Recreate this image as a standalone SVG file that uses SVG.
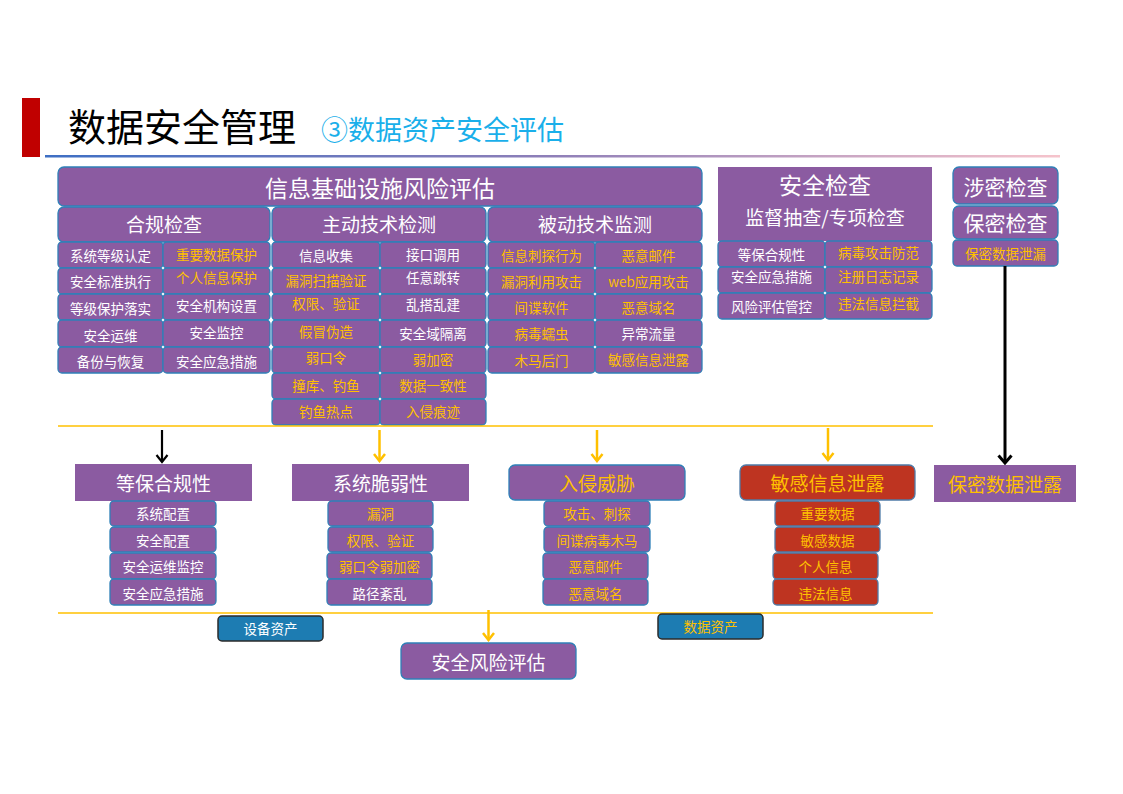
<svg xmlns="http://www.w3.org/2000/svg" width="1123" height="794" viewBox="0 0 1123 794">
<defs>
<linearGradient id="tl" x1="0" y1="0" x2="1" y2="0">
<stop offset="0" stop-color="#3E6FC4"/>
<stop offset="0.5" stop-color="#8F7FB8"/>
<stop offset="1" stop-color="#F6C4CC"/>
</linearGradient>
<marker id="hy" viewBox="0 0 10 14" refX="8.5" refY="7" markerWidth="10" markerHeight="14" markerUnits="userSpaceOnUse" orient="auto">
<polyline points="1.5,1.5 8.5,7 1.5,12.5" fill="none" stroke="#FFC000" stroke-width="2.5"/>
</marker>
<marker id="hk" viewBox="0 0 10 14" refX="8.5" refY="7" markerWidth="10" markerHeight="14" markerUnits="userSpaceOnUse" orient="auto">
<polyline points="1.5,1.5 8.5,7 1.5,12.5" fill="none" stroke="#000000" stroke-width="2.2"/>
</marker>
<marker id="hk3" viewBox="0 0 11 16" refX="9" refY="8" markerWidth="11" markerHeight="16" markerUnits="userSpaceOnUse" orient="auto">
<polyline points="1.5,1.5 9,8 1.5,14.5" fill="none" stroke="#000000" stroke-width="3"/>
</marker>
</defs>
<style>
text{font-family:"Noto Sans CJK SC","Noto Sans",sans-serif;text-anchor:middle;dominant-baseline:central}
.p{fill:#8B5BA1;stroke:#2F80B8;stroke-width:1.3}
.ps{fill:#8B5BA1}
.r{fill:#BE3421;stroke:#4F7BA8;stroke-width:1.3}
.b{fill:#1D7CB2;stroke:#2B2B2B;stroke-width:1.5}
.w{fill:#FFFFFF}
.y{fill:#FFC000}
.t14{font-size:13.5px}
.t19{font-size:19px}
.t23{font-size:23px}
.ya{stroke:#FFC000;stroke-width:2.5;fill:none;marker-end:url(#hy)}
.ka{stroke:#000000;stroke-width:2.2;fill:none;marker-end:url(#hk)}
.kb{stroke:#000000;stroke-width:3;fill:none;marker-end:url(#hk3)}
.sep{stroke:#FFC000;stroke-width:1.3}
</style>
<rect width="1123" height="794" fill="#FFFFFF"/>

<g id="header">
<rect x="22" y="98" width="18" height="59" fill="#C00000"/>
<text x="68" y="124" style="text-anchor:start;font-size:38px" fill="#000000">数据安全管理</text>
<text x="321" y="128" style="text-anchor:start;font-size:27px" fill="#1AAFEA">③数据资产安全评估</text>
<rect x="45" y="155" width="1015" height="2.5" fill="url(#tl)"/>
</g>

<g id="infra">
<rect class="p" x="58" y="167" width="644" height="39" rx="6"/>
<text class="w t23" x="380" y="187">信息基础设施风险评估</text>
</g>

<g id="compliance">
<rect class="p" x="58" y="207" width="212" height="35" rx="6"/>
<text class="w t19" x="164" y="223">合规检查</text>
<rect class="p" x="58" y="242" width="105" height="26" rx="4"/><text class="w t14" x="110.5" y="255">系统等级认定</text>
<rect class="p" x="163" y="242" width="107" height="26" rx="4"/><text class="y t14" x="216.5" y="254">重要数据保护</text>
<rect class="p" x="58" y="268" width="105" height="26" rx="4"/><text class="w t14" x="110.5" y="281">安全标准执行</text>
<rect class="p" x="163" y="268" width="107" height="26" rx="4"/><text class="y t14" x="216.5" y="277">个人信息保护</text>
<rect class="p" x="58" y="294" width="105" height="26" rx="4"/><text class="w t14" x="110.5" y="308">等级保护落实</text>
<rect class="p" x="163" y="294" width="107" height="26" rx="4"/><text class="w t14" x="216.5" y="305">安全机构设置</text>
<rect class="p" x="58" y="320" width="105" height="27" rx="4"/><text class="w t14" x="110.5" y="335">安全运维</text>
<rect class="p" x="163" y="320" width="107" height="27" rx="4"/><text class="w t14" x="216.5" y="332">安全监控</text>
<rect class="p" x="58" y="347" width="105" height="26" rx="4"/><text class="w t14" x="110.5" y="361">备份与恢复</text>
<rect class="p" x="163" y="347" width="107" height="26" rx="4"/><text class="w t14" x="216.5" y="361">安全应急措施</text>
</g>

<g id="active">
<rect class="p" x="272" y="207" width="214" height="35" rx="6"/>
<text class="w t19" x="379" y="223">主动技术检测</text>
<rect class="p" x="272" y="242" width="108" height="26" rx="4"/><text class="w t14" x="326" y="255">信息收集</text>
<rect class="p" x="380" y="242" width="106" height="26" rx="4"/><text class="w t14" x="433" y="254">接口调用</text>
<rect class="p" x="272" y="268" width="108" height="26" rx="4"/><text class="y t14" x="326" y="280">漏洞扫描验证</text>
<rect class="p" x="380" y="268" width="106" height="26" rx="4"/><text class="w t14" x="433" y="277">任意跳转</text>
<rect class="p" x="272" y="294" width="108" height="26" rx="4"/><text class="y t14" x="326" y="303">权限、验证</text>
<rect class="p" x="380" y="294" width="106" height="26" rx="4"/><text class="w t14" x="433" y="304">乱搭乱建</text>
<rect class="p" x="272" y="320" width="108" height="27" rx="4"/><text class="y t14" x="326" y="331">假冒伪造</text>
<rect class="p" x="380" y="320" width="106" height="27" rx="4"/><text class="w t14" x="433" y="333">安全域隔离</text>
<rect class="p" x="272" y="347" width="108" height="26" rx="4"/><text class="y t14" x="326" y="357">弱口令</text>
<rect class="p" x="380" y="347" width="106" height="26" rx="4"/><text class="y t14" x="433" y="359">弱加密</text>
<rect class="p" x="272" y="373" width="108" height="26" rx="4"/><text class="y t14" x="326" y="385">撞库、钓鱼</text>
<rect class="p" x="380" y="373" width="106" height="26" rx="4"/><text class="y t14" x="433" y="385">数据一致性</text>
<rect class="p" x="272" y="399" width="108" height="26" rx="4"/><text class="y t14" x="326" y="411">钓鱼热点</text>
<rect class="p" x="380" y="399" width="106" height="26" rx="4"/><text class="y t14" x="433" y="411">入侵痕迹</text>
</g>

<g id="passive">
<rect class="p" x="488" y="207" width="214" height="35" rx="6"/>
<text class="w t19" x="595" y="223">被动技术监测</text>
<rect class="p" x="488" y="242" width="107" height="26" rx="4"/><text class="y t14" x="541.5" y="255">信息刺探行为</text>
<rect class="p" x="595" y="242" width="107" height="26" rx="4"/><text class="y t14" x="648.5" y="255">恶意邮件</text>
<rect class="p" x="488" y="268" width="107" height="26" rx="4"/><text class="y t14" x="541.5" y="281">漏洞利用攻击</text>
<rect class="p" x="595" y="268" width="107" height="26" rx="4"/><text class="y t14" x="648.5" y="281">web应用攻击</text>
<rect class="p" x="488" y="294" width="107" height="26" rx="4"/><text class="y t14" x="541.5" y="307">间谍软件</text>
<rect class="p" x="595" y="294" width="107" height="26" rx="4"/><text class="y t14" x="648.5" y="307">恶意域名</text>
<rect class="p" x="488" y="320" width="107" height="27" rx="4"/><text class="y t14" x="541.5" y="333">病毒蠕虫</text>
<rect class="p" x="595" y="320" width="107" height="27" rx="4"/><text class="w t14" x="648.5" y="333">异常流量</text>
<rect class="p" x="488" y="347" width="107" height="26" rx="4"/><text class="y t14" x="541.5" y="360">木马后门</text>
<rect class="p" x="595" y="347" width="107" height="26" rx="4"/><text class="y t14" x="648.5" y="359">敏感信息泄露</text>
</g>

<g id="security-check">
<rect class="ps" x="718" y="167" width="214" height="74"/>
<text class="w" x="825" y="184" style="font-size:23px">安全检查</text>
<text class="w" x="825" y="216" style="font-size:19px">监督抽查/专项检查</text>
<rect class="p" x="718" y="241" width="107" height="26" rx="4"/><text class="w t14" x="771.5" y="254">等保合规性</text>
<rect class="p" x="825" y="241" width="107" height="26" rx="4"/><text class="y t14" x="878.5" y="252">病毒攻击防范</text>
<rect class="p" x="718" y="267" width="107" height="26" rx="4"/><text class="w t14" x="771.5" y="276">安全应急措施</text>
<rect class="p" x="825" y="267" width="107" height="26" rx="4"/><text class="y t14" x="878.5" y="276">注册日志记录</text>
<rect class="p" x="718" y="293" width="107" height="26" rx="4"/><text class="w t14" x="771.5" y="306">风险评估管控</text>
<rect class="p" x="825" y="293" width="107" height="26" rx="4"/><text class="y t14" x="878.5" y="303">违法信息拦截</text>
</g>

<g id="secret-check">
<rect class="p" x="953" y="167" width="105" height="37" rx="6"/>
<text class="w" x="1005.5" y="186" style="font-size:21px">涉密检查</text>
<rect class="p" x="953" y="206" width="105" height="33" rx="6"/>
<text class="w" x="1005.5" y="222" style="font-size:21px">保密检查</text>
<rect class="p" x="953" y="240" width="105" height="26" rx="4"/>
<text class="y t14" x="1005.5" y="253">保密数据泄漏</text>
</g>

<g id="separators">
<line class="sep" x1="58" y1="426" x2="933" y2="426"/>
<line class="sep" x1="58" y1="613" x2="933" y2="613"/>
</g>

<g id="connectors">
<line class="ka" x1="162" y1="430" x2="162" y2="462"/>
<line class="ya" x1="379.5" y1="430" x2="379.5" y2="461"/>
<line class="ya" x1="597" y1="430" x2="597" y2="461"/>
<line class="ya" x1="828" y1="428" x2="828" y2="460"/>
<line class="kb" x1="1005" y1="266" x2="1005" y2="463"/>
<line class="ya" x1="488.5" y1="610" x2="488.5" y2="640"/>
</g>

<g id="compliance-result">
<rect class="ps" x="75" y="464" width="177" height="37"/>
<text class="w t19" x="163.5" y="482">等保合规性</text>
<rect class="p" x="110" y="501" width="106" height="25" rx="4"/><text class="w t14" x="163" y="513">系统配置</text>
<rect class="p" x="110" y="527" width="106" height="25" rx="4"/><text class="w t14" x="163" y="540">安全配置</text>
<rect class="p" x="110" y="553" width="106" height="26" rx="4"/><text class="w t14" x="163" y="566">安全运维监控</text>
<rect class="p" x="110" y="579" width="106" height="26" rx="4"/><text class="w t14" x="163" y="593">安全应急措施</text>
</g>

<g id="vulnerability">
<rect class="ps" x="292" y="464" width="177" height="37"/>
<text class="w t19" x="380.5" y="482">系统脆弱性</text>
<rect class="p" x="328" y="501" width="105" height="25" rx="4"/><text class="y t14" x="380.5" y="513">漏洞</text>
<rect class="p" x="328" y="527" width="105" height="25" rx="4"/><text class="y t14" x="380.5" y="540">权限、验证</text>
<rect class="p" x="327" y="553" width="105" height="26" rx="4"/><text class="y t14" x="379.5" y="566">弱口令弱加密</text>
<rect class="p" x="327" y="579" width="105" height="26" rx="4"/><text class="w t14" x="379.5" y="593">路径紊乱</text>
</g>

<g id="intrusion">
<rect class="p" x="509" y="465" width="176" height="35" rx="6"/>
<text class="y t19" x="597" y="482">入侵威胁</text>
<rect class="p" x="544" y="501" width="106" height="25" rx="4"/><text class="y t14" x="597" y="513">攻击、刺探</text>
<rect class="p" x="544" y="527" width="106" height="25" rx="4"/><text class="y t14" x="597" y="540">间谍病毒木马</text>
<rect class="p" x="543" y="553" width="105" height="26" rx="4"/><text class="y t14" x="595.5" y="566">恶意邮件</text>
<rect class="p" x="543" y="579" width="105" height="26" rx="4"/><text class="y t14" x="595.5" y="593">恶意域名</text>
</g>

<g id="leak">
<rect class="r" x="740" y="465" width="175" height="35" rx="6"/>
<text class="y t19" x="827.5" y="482">敏感信息泄露</text>
<rect class="r" x="775" y="501" width="105" height="25" rx="4"/><text class="y t14" x="827.5" y="513">重要数据</text>
<rect class="r" x="775" y="527" width="105" height="25" rx="4"/><text class="y t14" x="827.5" y="540">敏感数据</text>
<rect class="r" x="773" y="553" width="105" height="26" rx="4"/><text class="y t14" x="825.5" y="566">个人信息</text>
<rect class="r" x="773" y="579" width="105" height="26" rx="4"/><text class="y t14" x="825.5" y="593">违法信息</text>
</g>

<g id="secret-leak">
<rect class="ps" x="934" y="465" width="142" height="37"/>
<text class="y t19" x="1005" y="483">保密数据泄露</text>
</g>

<g id="device-assets">
<rect class="b" x="218" y="616" width="105" height="25" rx="4"/>
<text class="w t14" x="270.5" y="628">设备资产</text>
</g>

<g id="data-assets">
<rect class="b" x="658" y="614" width="105" height="25" rx="4"/>
<text class="y t14" x="710.5" y="626">数据资产</text>
</g>

<g id="risk-assessment">
<rect class="p" x="401" y="643" width="175" height="36" rx="6"/>
<text class="w t19" x="488.5" y="661">安全风险评估</text>
</g>
</svg>
